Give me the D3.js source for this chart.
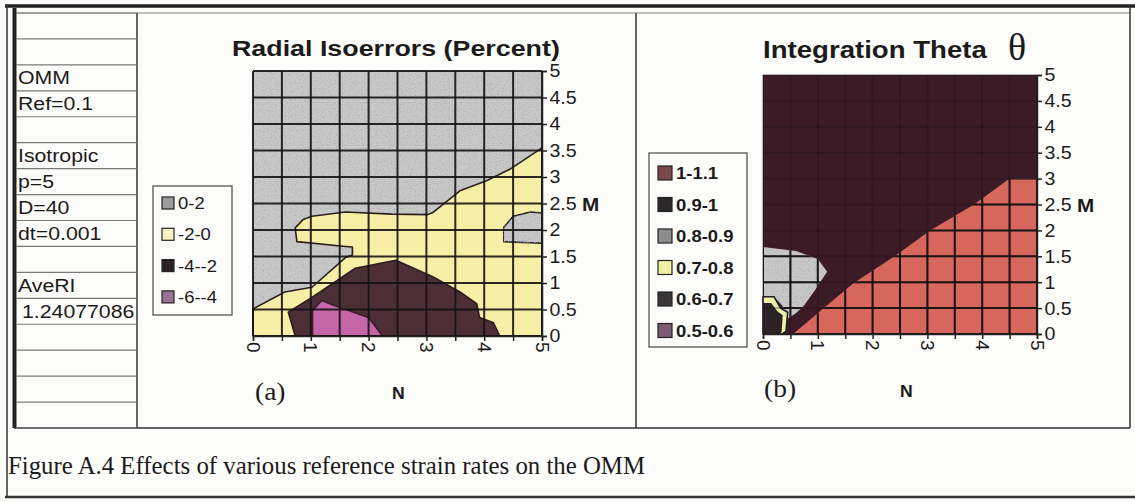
<!DOCTYPE html>
<html><head><meta charset="utf-8">
<script src="https://cdn.jsdelivr.net/npm/d3@7"></script>
<style>body{margin:0;background:#fcfcfa}svg{display:block}</style>
</head><body><svg id="c" width="1135" height="502"></svg>
<script>
// ---------- data ----------
const tableRows = ["", "", "OMM", "Ref=0.1", "", "Isotropic", "p=5", "D=40", "dt=0.001", "", "AveRI", "1.24077086", "", "", "", ""];
const nTicks = [0, 0.5, 1, 1.5, 2, 2.5, 3, 3.5, 4, 4.5, 5];
const mTicks = [0, 0.5, 1, 1.5, 2, 2.5, 3, 3.5, 4, 4.5, 5];
const legendA = ["0-2", "-2-0", "-4--2", "-6--4"];
const legendB = ["1-1.1", "0.9-1", "0.8-0.9", "0.7-0.8", "0.6-0.7", "0.5-0.6"];
// band outlines in (N, M) units
const yellowA = [[0,0.51],[0.55,0.83],[1.02,0.92],[1.6,1.48],[1.72,1.53],[1.72,1.68],[1.6,1.69],[0.76,1.78],[0.73,2.04],[0.87,2.2],[1.02,2.26],[1.6,2.34],[2.4,2.3],[3.02,2.29],[3.11,2.33],[3.58,2.74],[4.04,2.93],[4.45,3.15],[5,3.55],[5,0],[0,0]];
const darkA = [[0.73,0],[0.61,0.45],[1.02,0.73],[1.77,1.28],[2.47,1.43],[3.11,1.12],[3.58,0.83],[3.87,0.61],[3.92,0.35],[4.16,0.25],[4.27,0]];
const pinkA = [[1.03,0],[1.03,0.48],[1.19,0.67],[1.42,0.57],[2.0,0.35],[2.24,0]];
const islandA = [[5,2.32],[4.8,2.34],[4.5,2.26],[4.33,2.04],[4.33,1.78],[5,1.75]];
const redB = [[0.55,0],[1.05,0.45],[1.65,0.98],[2.4,1.5],[3.05,2],[3.85,2.5],[4.5,3],[5,3],[5,0]];
const grayB = [[0,1.68],[0.6,1.6],[1.0,1.45],[1.17,1.2],[0.95,0.85],[0.75,0.55],[0.6,0.4],[0.45,0.3],[0.35,0.55],[0.2,0.72],[0,0.72]];
const yellowB = [[0,0.72],[0.2,0.72],[0.32,0.5],[0.45,0.42],[0.42,0.05],[0.35,0],[0,0]];
const innerB = [[0,0.6],[0.15,0.6],[0.26,0.44],[0.36,0.36],[0.34,0.04],[0.3,0],[0,0]];

// ---------- styles ----------
const C = {
  gray: "#c8c8c8", yellow: "#f8efa6", darkA: "#4c2e36", pink: "#c665a8",
  darkB: "#3b1b26", red: "#d7675d", ink: "#1d1a1a"
};
const legendAColors = ["#9c9c9c", "#f5f1c2", "#2b2326", "#9c7192"];
const legendBColors = ["#7a4a4a", "#2a2828", "#8d8d8d", "#f1efa2", "#383636", "#7c5a72"];

const svg = d3.select("#c");
const defs = svg.append("defs");
defs.html(`<filter id="speck" x="0" y="0" width="100%" height="100%" filterUnits="objectBoundingBox">
 <feTurbulence type="fractalNoise" baseFrequency="0.85" numOctaves="2" seed="7" result="noise"/>
 <feColorMatrix in="noise" type="matrix" values="0 0 0 0 0.35  0 0 0 0 0.35  0 0 0 0 0.35  2.4 0 0 0 -1.25" result="dots"/>
 <feComposite in="dots" in2="SourceGraphic" operator="in" result="d2"/>
 <feMerge><feMergeNode in="SourceGraphic"/><feMergeNode in="d2"/></feMerge>
</filter>`);
svg.append("rect").attr("width",1135).attr("height",502).attr("fill","#fcfcfa");

function txt(x, y, s, o) {
  o = o || {};
  const t = svg.append("text")
    .attr("transform", `translate(${x},${y}) scale(${o.sx||1},1)`)
    .attr("font-family", o.ff || "Liberation Sans, Arial, sans-serif")
    .attr("font-size", o.fs || 18)
    .attr("font-weight", o.fw || "normal")
    .attr("text-anchor", o.anchor || "start")
    .attr("fill", o.fill || C.ink)
    .text(s);
  if (o.tl) t.attr("textLength", o.tl).attr("lengthAdjust", "spacingAndGlyphs");
  return t;
}
function line(x1,y1,x2,y2,w,col){
  svg.append("line").attr("x1",x1).attr("y1",y1).attr("x2",x2).attr("y2",y2)
    .attr("stroke",col||"#222").attr("stroke-width",w);
}

// ---------- frame ----------
line(5,6,1135,6,3.5,"#222");
line(15,13,1130,13,1,"#888");
line(7,5,7,497,1.5,"#333");
line(14.5,8,14.5,428,4,"#222");
line(137,13,137,428,1.5,"#333");
line(636,13,636,428,1.5,"#333");
line(1130,6,1130,428,1.5,"#333");
line(14,428,1130,428,1.5,"#333");
line(5,497,1135,497,2.5,"#333");

// table
const rowY = d3.scaleLinear().domain([0,16]).range([13,428]);
d3.range(17).forEach(i => line(16, rowY(i), 137, rowY(i), 1.2, "#7a7a7a"));
tableRows.forEach((t,i) => {
  if (!t) return;
  txt(i===11 ? 22 : 18, rowY(i)+19.5, t, {fs:19, sx:1.12});
});

// ---------- plot builder ----------
let clipId = 0;
function plot(cfg) {
  const x = d3.scaleLinear().domain([0,5]).range([cfg.x0, cfg.x1]);
  const y = d3.scaleLinear().domain([0,5]).range([cfg.y1, cfg.y0]);
  const g = svg.append("g");
  const poly = d3.line().x(d => x(d[0])).y(d => y(d[1]));
  const base = g.append("rect").attr("x",x(0)).attr("y",y(5)).attr("width",x(5)-x(0)).attr("height",y(0)-y(5)).attr("fill",cfg.base);
  if (cfg.baseSpeck) base.attr("filter","url(#speck)");
  cfg.bands.forEach(b => {
    const p = g.append("path").attr("d", poly(b.pts) + "Z").attr("fill", b.fill)
      .attr("stroke", b.stroke || "none").attr("stroke-width", 1.6).attr("stroke-linejoin","round");
    if (b.speck) p.attr("filter","url(#speck)");
  });
  // grid
  function grid(sel, op) {
    nTicks.forEach(v => sel.append("line").attr("x1",x(v)).attr("x2",x(v)).attr("y1",y(0)).attr("y2",y(5))
      .attr("stroke", "#161213").attr("stroke-width", 2).attr("stroke-opacity", op));
    mTicks.forEach(v => sel.append("line").attr("y1",y(v)).attr("y2",y(v)).attr("x1",x(0)).attr("x2",x(5))
      .attr("stroke", "#161213").attr("stroke-width", 2).attr("stroke-opacity", op));
  }
  if (cfg.gridClip) {
    grid(g.append("g"), 0.3);
    const id = "gc" + (clipId++);
    const cp = defs.append("clipPath").attr("id", id);
    cfg.gridClip.forEach(pts => cp.append("path").attr("d", poly(pts) + "Z"));
    grid(g.append("g").attr("clip-path", `url(#${id})`), 0.95);
  } else {
    grid(g, 0.9);
  }
  // right axis
  const ya = svg.append("g").attr("transform",`translate(${x(5)},0)`)
    .call(d3.axisRight(y).tickValues(mTicks).tickSize(5).tickPadding(2).tickFormat(d3.format("")));
  ya.select(".domain").attr("stroke","#222").attr("stroke-width",1.5);
  ya.selectAll(".tick line").attr("stroke","#222").attr("stroke-width",1.5);
  ya.selectAll("text").attr("font-family","Liberation Sans, Arial, sans-serif").attr("font-size",18.5).attr("fill",C.ink)
    .attr("transform","scale(1.06,1)");
  // bottom axis
  const xa = svg.append("g").attr("transform",`translate(0,${y(0)})`)
    .call(d3.axisBottom(x).tickValues(nTicks).tickSize(5).tickFormat(d => Number.isInteger(d) ? d : ""));
  xa.select(".domain").attr("stroke","#222").attr("stroke-width",1.5);
  xa.selectAll(".tick line").attr("stroke","#222").attr("stroke-width",1.5);
  xa.selectAll("text").attr("font-family","Liberation Sans, Arial, sans-serif").attr("font-size",19).attr("fill",C.ink)
    .attr("y",0).attr("x",6).attr("dy","0.36em").attr("text-anchor","start").attr("transform","rotate(90)");
  txt(x(5)+40, y(2.5)+7, "M", {fw:"bold", fs:18, sx:1.15});
  txt(cfg.nx, cfg.ny, "N", {fw:"bold", fs:16, sx:1.1});
  txt(cfg.lx, cfg.ly, cfg.letter, {ff:"Liberation Serif, Times New Roman, serif", fs:25, sx:1.1});
  // legend
  const L = cfg.legend;
  svg.append("rect").attr("x",L.x).attr("y",L.y).attr("width",L.w).attr("height",L.h)
    .attr("fill","#fcfcfa").attr("stroke","#555").attr("stroke-width",1.3);
  L.items.forEach((t,i) => {
    const cy = L.y + L.first + i*L.step;
    svg.append("rect").attr("x",L.sx).attr("y",cy-L.ss/2).attr("width",L.ss).attr("height",L.ss)
      .attr("fill",L.colors[i]).attr("stroke","#222").attr("stroke-width",1.2);
    txt(L.tx, cy+6, t, {fs:L.fs, fw:L.fw, sx:1.12});
  });
}

plot({
  x0:253, x1:542, y0:71, y1:336, base:C.gray, baseSpeck:true,
  bands:[
    {pts:yellowA, fill:C.yellow, stroke:"#2a2020"},
    {pts:darkA, fill:C.darkA, stroke:"#2a1c20"},
    {pts:pinkA, fill:C.pink, stroke:"#3a1c2a"},
    {pts:islandA, fill:C.gray, stroke:"#2a2020", speck:true}
  ],
  nx:392, ny:399, lx:255, ly:400, letter:"(a)",
  legend:{x:153, y:186, w:79, h:129, first:17, step:31.3, sx:162, ss:12, tx:178, fs:16.5, fw:"normal",
    items:legendA, colors:legendAColors}
});
plot({
  x0:763, x1:1037, y0:75, y1:334, base:C.darkB,
  bands:[
    {pts:redB, fill:C.red},
    {pts:grayB, fill:C.gray, speck:true},
    {pts:yellowB, fill:"#eef0a8", stroke:"#222"},
    {pts:innerB, fill:"#2a2226"}
  ],
  gridClip:[redB, grayB],
  nx:900, ny:397, lx:764, ly:397, letter:"(b)",
  legend:{x:649, y:153, w:98, h:194, first:20, step:31.5, sx:658, ss:14, tx:676, fs:16.5, fw:"bold",
    items:legendB, colors:legendBColors}
});

// titles
txt(232, 56, "Radial Isoerrors (Percent)", {fw:"bold", fs:22, sx:1.22});
txt(763, 58, "Integration Theta", {fw:"bold", fs:23, sx:1.2});
txt(1008, 60, "θ", {ff:"Liberation Serif, Times New Roman, serif", fs:38, sx:1.0});

// caption
txt(8, 474, "Figure A.4 Effects of various reference strain rates on the OMM",
  {ff:"Liberation Serif, Times New Roman, serif", fs:25, tl:637});
</script></body></html>
